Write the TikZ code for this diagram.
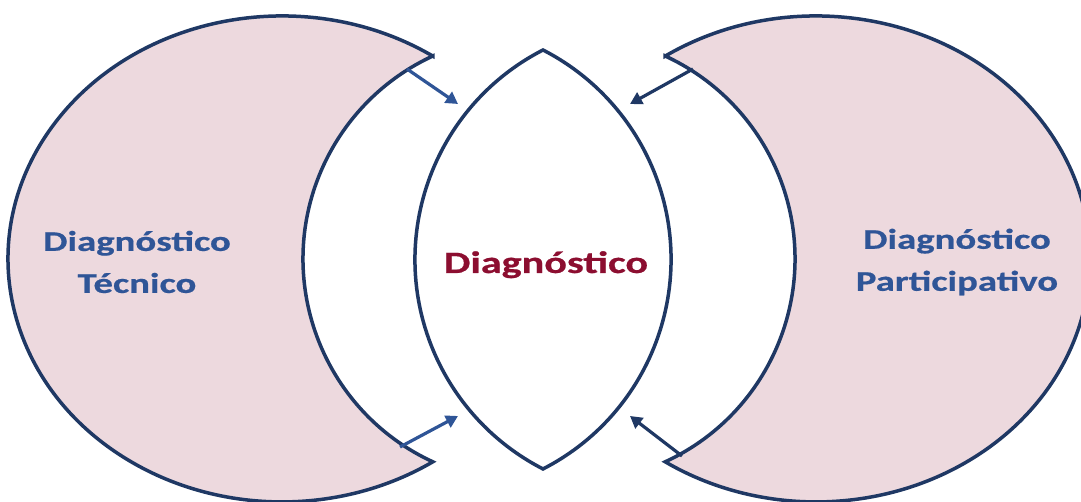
\documentclass[tikz,border=0pt]{standalone}
\usepackage{fontspec}
\newfontfamily\cfont[FakeStretch=1.36,BoldFeatures={FakeBold=0.6}]{Carlito}
\usetikzlibrary{arrows.meta}
\definecolor{navy}{RGB}{31,56,100}
\definecolor{midblue}{RGB}{47,85,151}
\definecolor{pinkfill}{RGB}{237,217,222}
\definecolor{darkred}{RGB}{140,14,48}
\tikzset{
  crescent/.style={draw=navy, line width=3.5pt, fill=pinkfill, line join=miter},
  lensshape/.style={draw=navy, line width=3.5pt, fill=white, line join=miter},
  feedarrow/.style={line width=3.2pt, -{Triangle[length=12pt,width=13pt]}},
  sidelabel/.style={font=\cfont\bfseries\fontsize{28.5}{42}\selectfont, text=midblue, align=center, inner sep=0pt},
  centerlabel/.style={font=\cfont\bfseries\fontsize{31}{37}\selectfont, text=darkred, inner sep=0pt}
}
\begin{document}
\begin{tikzpicture}[x=1pt,y=1pt]
\useasboundingbox (0,0) rectangle (1081,502);
\clip (0,0) rectangle (1081,502);
% left crescent
\draw[crescent] (432.8,445.9) arc[start angle=56.6,end angle=303.4,x radius=274,y radius=243]
  arc[start angle=245.21,end angle=114.79,radius=223.5] -- cycle;
% right crescent
\draw[crescent] (665.2,445.9) arc[start angle=123.4,end angle=-123.4,x radius=274,y radius=243]
  arc[start angle=-65.21,end angle=65.21,radius=223.5] -- cycle;
% lens
\draw[lensshape] (543,452) arc[start angle=117.14,end angle=242.86,radius=235.4]
  arc[start angle=-62.86,end angle=62.86,radius=235.4] -- cycle;
% arrows
\coordinate (lt1) at (407,433); \coordinate (lt2) at (458,398);
\coordinate (lb1) at (400,55);  \coordinate (lb2) at (458,86);
\coordinate (rt1) at (693,433); \coordinate (rt2) at (630,398);
\coordinate (rb1) at (682,46);  \coordinate (rb2) at (630,86);
\draw[feedarrow, midblue] (lt1) -- (lt2);
\draw[feedarrow, midblue] (lb1) -- (lb2);
\draw[feedarrow, navy] (rt1) -- (rt2);
\draw[feedarrow, navy] (rb1) -- (rb2);
% labels
\node[sidelabel] (tec) at (137,240) {Diagnóstico\\Técnico};
\node[sidelabel] (par) at (957,240) {Diagnóstico\\Participativo};
\node[centerlabel, anchor=base] (diag) at (546,229) {Diagnóstico};
\end{tikzpicture}
\end{document}
